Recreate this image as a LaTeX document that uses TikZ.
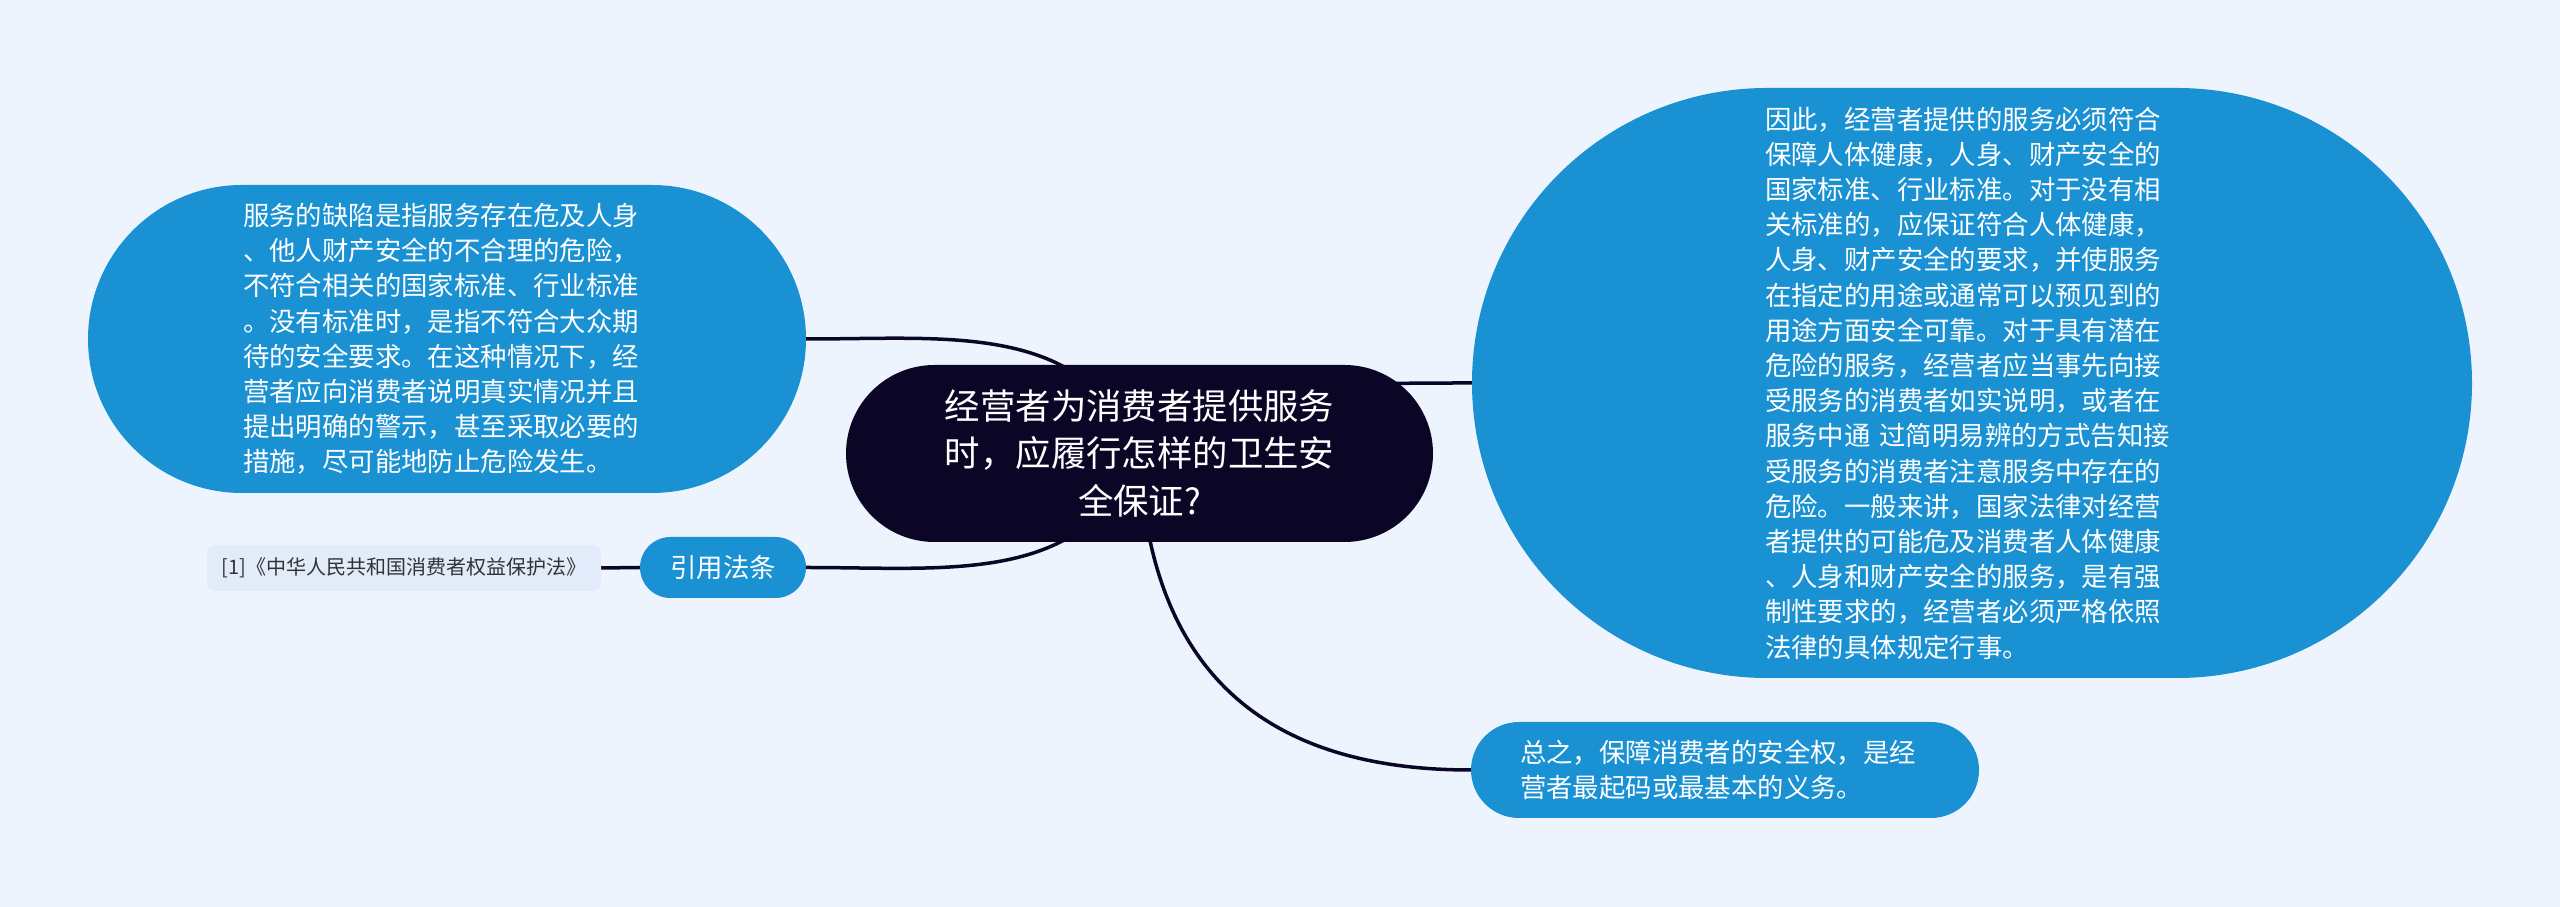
\documentclass[tikz,border=0pt]{standalone}
\usepackage{fontspec}
\setmainfont{Noto Sans CJK SC}
\usepackage{xcolor}
\usepackage{tikz}
\usetikzlibrary{shapes.misc,backgrounds}

\definecolor{pagebg}{RGB}{237,244,254}
\definecolor{topicblue}{RGB}{26,145,211}
\definecolor{rootnavy}{RGB}{11,6,38}
\definecolor{refbg}{RGB}{225,235,250}
\definecolor{reftext}{RGB}{51,51,51}

\begin{document}
\begin{tikzpicture}[x=1pt,y=1pt,
  root/.style={rounded rectangle,fill=rootnavy,text=white,inner sep=0pt,align=center,
    font=\fontsize{35.4}{47.5}\selectfont},
  topic/.style={rounded rectangle,fill=topicblue,text=white,inner sep=0pt,align=left,
    font=\fontsize{26.4}{35.2}\selectfont},
  refbox/.style={rectangle,rounded corners=8pt,fill=refbg,text=reftext,inner sep=0pt,
    font=\fontsize{20}{24}\selectfont},
  link/.style={draw=rootnavy,line width=3.5pt}]

\begin{scope}[on background layer]
\fill[pagebg] (0,0) rectangle (2560,907);
\end{scope}
\useasboundingbox (0,0) rectangle (2560,907);

% centre
\node[root,minimum width=587pt,minimum height=177pt] (root) at (1139.5,453.5)
  {经营者为消费者提供服务\\时，应履行怎样的卫生安\\全保证?};

% left side
\node[topic,text width=408pt,minimum width=718pt,minimum height=308pt] (defect) at (447,568)
  {服务的缺陷是指服务存在危及人身\\
   、他人财产安全的不合理的危险，\\
   不符合相关的国家标准、行业标准\\
   。没有标准时，是指不符合大众期\\
   待的安全要求。在这种情况下，经\\
   营者应向消费者说明真实情况并且\\
   提出明确的警示，甚至采取必要的\\
   措施，尽可能地防止危险发生。};
\node[topic,minimum width=166pt,minimum height=61pt] (cite) at (723,339.5) {引用法条};
\node[refbox,minimum width=394pt,minimum height=46pt] (law) at (404,339)
  {[1]《中华人民共和国消费者权益保护法》};

% right side
\node[topic,text width=414pt,minimum width=1000pt,minimum height=590pt] (duty) at (1972,524)
  {因此，经营者提供的服务必须符合\\
   保障人体健康，人身、财产安全的\\
   国家标准、行业标准。对于没有相\\
   关标准的，应保证符合人体健康，\\
   人身、财产安全的要求，并使服务\\
   在指定的用途或通常可以预见到的\\
   用途方面安全可靠。对于具有潜在\\
   危险的服务，经营者应当事先向接\\
   受服务的消费者如实说明，或者在\\
   服务中通 过简明易辨的方式告知接\\
   受服务的消费者注意服务中存在的\\
   危险。一般来讲，国家法律对经营\\
   者提供的可能危及消费者人体健康\\
   、人身和财产安全的服务，是有强\\
   制性要求的，经营者必须严格依照\\
   法律的具体规定行事。};
\node[topic,text width=410pt,minimum width=508pt,minimum height=96pt] (summary) at (1725,137)
  {总之，保障消费者的安全权，是经\\营者最起码或最基本的义务。};

% connectors
\begin{scope}[on background layer]
\draw[link] (root.center) .. controls +(-55,132) and +(145,0) .. (defect.east);
\draw[link] (root.center) .. controls +(-55,-132) and +(145,0) .. (cite.east);
\draw[link] (root.center) .. controls +(100,70) and +(-150,0) .. (duty.west);
\draw[link] (root.center) .. controls +(10,-250) and +(-170,0) .. (summary.west);
\draw[link] (cite.west) -- (law.east);
\end{scope}
\end{tikzpicture}
\end{document}
